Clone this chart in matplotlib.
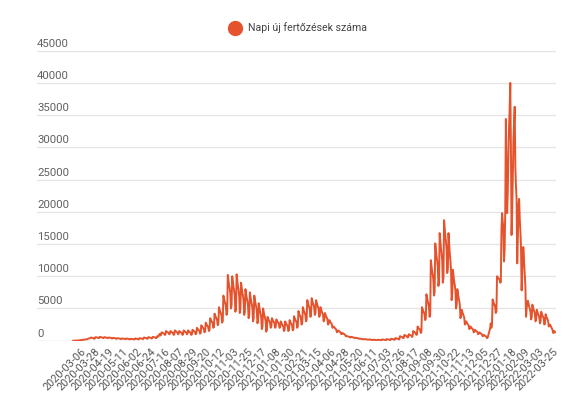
import matplotlib
matplotlib.use("Agg")
import matplotlib.pyplot as plt
from matplotlib.lines import Line2D
from matplotlib.transforms import ScaledTranslation, blended_transform_factory

plt.rcParams["font.family"] = ["Roboto", "DejaVu Sans"]

LINE_COLOR = "#e5532d"
SERIES_LABEL = "Napi új fertőzések száma"

# daily values, one week per row
daily_cases = [
    3, 5, 7, 9, 13, 19, 30,
    32, 39, 50, 58, 73, 85, 102,
    110, 130, 140, 150, 160, 170, 190,
    210, 250, 290, 320, 350, 380, 420,
    500, 470, 440, 420, 390, 300, 330,
    550, 530, 510, 490, 470, 400, 415,
    600, 570, 540, 520, 490, 400, 420,
    550, 530, 505, 490, 470, 400, 415,
    500, 480, 455, 440, 420, 350, 365,
    450, 430, 405, 390, 370, 300, 315,
    400, 380, 355, 340, 320, 250, 265,
    350, 335, 320, 310, 295, 250, 260,
    350, 330, 305, 290, 270, 200, 215,
    300, 285, 270, 260, 245, 200, 210,
    350, 330, 305, 290, 270, 200, 215,
    400, 380, 355, 340, 320, 250, 265,
    500, 470, 440, 420, 390, 300, 320,
    550, 520, 490, 470, 440, 350, 370,
    600, 570, 540, 520, 490, 400, 420,
    700, 680, 660, 900, 1050, 800, 900,
    1300, 1240, 1180, 1140, 1080, 900, 940,
    1500, 1425, 1350, 1300, 1225, 1000, 1050,
    1500, 1410, 1320, 1260, 1170, 900, 960,
    1600, 1510, 1420, 1360, 1270, 1000, 1060,
    1500, 1410, 1320, 1260, 1170, 900, 960,
    1600, 1510, 1420, 1360, 1270, 1000, 1060,
    1600, 1495, 1390, 1320, 1215, 900, 970,
    1700, 1595, 1490, 1420, 1315, 1000, 1070,
    2000, 1865, 1730, 1640, 1505, 1100, 1190,
    2400, 2235, 2070, 1960, 1795, 1300, 1410,
    2800, 2605, 2410, 2280, 2085, 1500, 1630,
    3500, 3275, 3050, 2900, 2675, 2000, 2150,
    4200, 3930, 3660, 3480, 3210, 2400, 2580,
    5200, 4840, 4480, 4240, 3880, 2800, 3040,
    7000, 6550, 6100, 5800, 5350, 4000, 4300,
    10200, 9420, 8640, 8120, 7340, 5000, 5520,
    10000, 9175, 8350, 7800, 6975, 4500, 5050,
    10300, 9400, 8500, 7900, 7000, 4300, 4900,
    9000, 8250, 7500, 7000, 6250, 4000, 4500,
    8000, 7325, 6650, 6200, 5525, 3500, 3950,
    7500, 6825, 6150, 5700, 5025, 3000, 3450,
    7000, 6355, 5710, 5280, 4635, 2700, 3130,
    5800, 5200, 4600, 4200, 3600, 1800, 2200,
    5000, 4460, 3920, 3560, 3020, 1400, 1760,
    3700, 3445, 3190, 3020, 2765, 2000, 2170,
    3500, 3275, 3050, 2900, 2675, 2000, 2150,
    3300, 3105, 2910, 2780, 2585, 2000, 2130,
    3000, 2775, 2550, 2400, 2175, 1500, 1650,
    3000, 2780, 2560, 2410, 2180, 1500, 1640,
    3200, 2960, 2720, 2560, 2320, 1600, 1760,
    3800, 3530, 3260, 3080, 2810, 2000, 2180,
    4600, 4285, 3970, 3760, 3445, 2500, 2710,
    5200, 4870, 4540, 4320, 3990, 3000, 3220,
    6300, 5910, 5520, 5260, 4870, 3700, 3960,
    6600, 6210, 5820, 5560, 5170, 4000, 4260,
    6300, 5910, 5520, 5260, 4870, 3700, 3960,
    5200, 4870, 4540, 4320, 3990, 3000, 3220,
    4300, 4030, 3760, 3580, 3310, 2500, 2680,
    3200, 3020, 2840, 2720, 2540, 2000, 2120,
    2200, 2065, 1930, 1840, 1705, 1300, 1390,
    1600, 1510, 1420, 1360, 1270, 1000, 1060,
    1200, 1125, 1050, 1000, 925, 700, 750,
    700, 670, 640, 620, 590, 500, 520,
    600, 570, 540, 520, 490, 400, 420,
    450, 430, 405, 390, 370, 300, 315,
    300, 285, 270, 260, 245, 200, 210,
    250, 235, 220, 210, 195, 150, 160,
    200, 185, 170, 160, 145, 100, 110,
    150, 140, 130, 120, 110, 80, 90,
    140, 132, 125, 118, 108, 80, 86,
    200, 180, 160, 150, 130, 80, 95,
    250, 230, 205, 190, 170, 100, 115,
    300, 280, 255, 240, 220, 150, 165,
    400, 370, 340, 320, 290, 200, 220,
    700, 655, 610, 580, 535, 400, 430,
    900, 840, 780, 740, 680, 500, 540,
    1000, 940, 880, 840, 780, 600, 640,
    1500, 1410, 1320, 1260, 1170, 900, 960,
    2200, 2050, 1900, 1800, 1650, 1200, 1300,
    5200, 4900, 4600, 4400, 4100, 3200, 3400,
    7200, 6675, 6150, 5800, 5275, 3700, 4050,
    12500, 11675, 10850, 10300, 9475, 7000, 7550,
    15100, 14110, 13120, 12460, 11470, 8500, 9160,
    16700, 15545, 14390, 13620, 12465, 9000, 9770,
    18700, 17470, 16240, 15420, 14190, 10500, 11320,
    16700, 15140, 13580, 12540, 10980, 6300, 7340,
    11000, 10100, 9200, 8600, 7700, 5000, 5600,
    8000, 7325, 6650, 6200, 5525, 3500, 3950,
    4800, 4455, 4110, 3880, 3535, 2500, 2730,
    3000, 2820, 2640, 2520, 2340, 1800, 1920,
    2200, 2065, 1930, 1840, 1705, 1300, 1390,
    1700, 1595, 1490, 1420, 1315, 1000, 1070,
    1300, 1210, 1120, 1060, 970, 700, 760,
    900, 825, 750, 700, 625, 400, 450,
    800, 1100, 1500, 1900, 2700, 2000, 2500,
    6400, 6085, 5770, 5560, 5245, 4300, 4510,
    10000, 9850, 9700, 9600, 9450, 9000, 9100,
    17000, 19800, 18500, 17500, 12300, 14000, 20000,
    34400, 26000, 19800, 23000, 29000, 33000, 36000,
    40000, 30000, 16400, 20000, 26000, 31000, 34000,
    36300, 27000, 24000, 22000, 12000, 16000, 21000,
    22000, 19000, 17000, 14500, 7800, 11000, 14500,
    14500, 12000, 10000, 8300, 3700, 5000, 6000,
    6200, 5735, 5270, 4960, 4495, 3300, 3600,
    5600, 5210, 4820, 4560, 4170, 3000, 3260,
    4800, 4485, 4170, 3960, 3645, 2700, 2910,
    4500, 4200, 3900, 3700, 3400, 2500, 2700,
    4100, 3815, 3530, 3340, 3055, 2200, 2390,
    2500, 2300, 2100, 1900, 1700, 1200, 1350,
    1500, 1300,
]

tick_labels = [
    "2020-03-06", "2020-03-28", "2020-04-19", "2020-05-11", "2020-06-02",
    "2020-06-24", "2020-07-16", "2020-08-07", "2020-08-29", "2020-09-20",
    "2020-10-12", "2020-11-03", "2020-11-25", "2020-12-17", "2021-01-08",
    "2021-01-30", "2021-02-21", "2021-03-15", "2021-04-06", "2021-04-28",
    "2021-05-20", "2021-06-11", "2021-07-03", "2021-07-26", "2021-08-17",
    "2021-09-08", "2021-09-30", "2021-10-22", "2021-11-13", "2021-12-05",
    "2021-12-27", "2022-01-18", "2022-02-09", "2022-03-03", "2022-03-25",
]
y_ticks = [0, 5000, 10000, 15000, 20000, 25000, 30000, 35000, 40000, 45000]

W, H = 575, 407
fig = plt.figure(figsize=(W / 100, H / 100), dpi=100)
ax = fig.add_axes([37 / W, (H - 340.7) / H, (556 - 37) / W, (340.7 - 50.7) / H])

ax.plot(range(len(daily_cases)), daily_cases, color=LINE_COLOR, lw=1.4,
        solid_joinstyle="round", zorder=3)
ax.set_xlim(-57.6, 765.5)
ax.set_ylim(0, 45000)
for s in ax.spines.values():
    s.set_visible(False)

# gridlines with labels sitting on top of them
ax.set_yticks([])
lab_tr = blended_transform_factory(ax.transAxes, ax.transData) + \
    ScaledTranslation(0, 2 / 100, fig.dpi_scale_trans)
for v in y_ticks:
    ax.axhline(v, color="#c9c9c9" if v == 0 else "#e3e3e3", lw=0.9, zorder=1)
    ax.text(0, v, str(v), transform=lab_tr, ha="left", va="bottom",
            fontsize=8.2, color="#616161")

tick_pos = list(range(0, len(daily_cases), 22))[:len(tick_labels)]
ax.set_xticks(tick_pos)
ax.set_xticklabels(tick_labels, rotation=45, ha="right", rotation_mode="anchor",
                   fontsize=7.8, color="#555555")
ax.tick_params(axis="x", length=0, pad=4)
shift = ScaledTranslation(8 / 100, 0, fig.dpi_scale_trans)
for lab in ax.get_xticklabels():
    lab.set_transform(lab.get_transform() + shift)

handle = Line2D([], [], marker="o", ls="", color=LINE_COLOR, markersize=10)
fig.legend(handles=[handle], labels=[SERIES_LABEL], loc="center",
           bbox_to_anchor=(296 / W, (H - 28) / H), frameon=False,
           handletextpad=0.2, fontsize=7.6, labelcolor="#444444")

fig.savefig("out.png", dpi=100)
